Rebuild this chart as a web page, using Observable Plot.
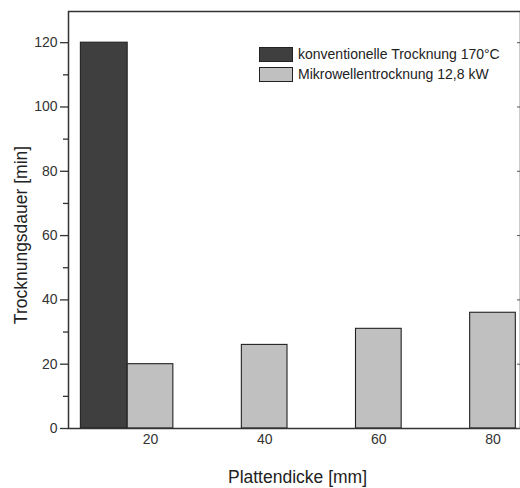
<!DOCTYPE html>
<html><head><meta charset="utf-8">
<script src="https://cdn.jsdelivr.net/npm/d3@7"></script>
<script src="https://cdn.jsdelivr.net/npm/@observablehq/plot@0.6"></script>
<style>
body{margin:0;background:#fff;}
#wrap{position:relative;width:520px;height:488px;overflow:hidden;font-family:"Liberation Sans",Arial,sans-serif;}
.leg{position:absolute;left:259px;height:16px;font-size:14px;color:#222;display:flex;align-items:center;white-space:nowrap;}
.sw{width:34px;height:15px;border:1.3px solid #222;margin-right:5px;box-sizing:border-box;}
</style></head><body><div id="wrap"></div>
<script>
const thickness = [20, 40, 60, 80];
const conventional = [120, null, null, null];
const microwave = [20, 26, 31, 36];
const seriesNames = ["konventionelle Trocknung 170°C", "Mikrowellentrocknung 12,8 kW"];
const seriesColors = ["#3f3f3f", "#c0c0c0"];
const yTicks = [0, 20, 40, 60, 80, 100, 120];
const yMinorTicks = [10, 30, 50, 70, 90, 110];
const xTicks = [20, 40, 60, 80];
const xTitle = "Plattendicke [mm]";
const yTitle = "Trocknungsdauer [min]";

const convRows = thickness.map((t, i) => ({t, v: conventional[i]})).filter(d => d.v != null);
const microRows = thickness.map((t, i) => ({t, v: microwave[i]})).filter(d => d.v != null);
const barW = 8;

const plot = Plot.plot({
  width: 520,
  height: 488,
  marginLeft: 68,
  marginRight: 0,
  marginTop: 11,
  marginBottom: 60,
  style: {fontFamily: "Liberation Sans, Arial, sans-serif", fontSize: "14px", background: "#fff", color: "#333"},
  x: {type: "linear", domain: [5.63, 84.82]},
  y: {domain: [0, 129.7]},
  marks: [
    Plot.rectY(convRows, {x1: d => d.t - 1.5 * barW - 0.2, x2: d => d.t - 0.5 * barW, y1: 0, y2: "v", fill: seriesColors[0], stroke: "#222", strokeWidth: 1.1}),
    Plot.rectY(microRows, {x1: d => d.t - 0.5 * barW, x2: d => d.t + 0.5 * barW, y1: 0, y2: "v", fill: seriesColors[1], stroke: "#222", strokeWidth: 1.1}),
    Plot.frame({stroke: "#333", strokeWidth: 1.5}),
    Plot.axisY(yTicks, {anchor: "left", tickSize: 8, tickPadding: 3, fontSize: 14, color: "#333", strokeWidth: 1.3, label: null}),
    Plot.axisY(yMinorTicks, {anchor: "left", tickSize: 5, tickFormat: () => "", color: "#333", strokeWidth: 1.3, label: null}),
    Plot.axisY(yTicks, {anchor: "right", tickSize: -4, tickFormat: () => "", color: "#555", strokeWidth: 1, label: null}),
    Plot.axisX(xTicks, {anchor: "bottom", tickSize: 0, tickPadding: 6, fontSize: 14, color: "#333", label: null}),
    Plot.text([xTitle], {frameAnchor: "bottom", dx: 3, dy: 54, text: d => d, fontSize: 17.5, lineAnchor: "bottom", textAnchor: "middle", fill: "#222"}),
    Plot.text([yTitle], {frameAnchor: "left", dx: -47, dy: 15, text: d => d, fontSize: 17.5, rotate: -90, lineAnchor: "middle", textAnchor: "middle", fill: "#222"})
  ]
});
const wrap = document.getElementById("wrap");
wrap.appendChild(plot);
const legTops = [46, 66];
seriesNames.forEach((name, i) => {
  const row = document.createElement("div");
  row.className = "leg";
  row.style.top = legTops[i] + "px";
  const sw = document.createElement("span");
  sw.className = "sw";
  sw.style.background = seriesColors[i];
  const tx = document.createElement("span");
  tx.textContent = name;
  row.appendChild(sw);
  row.appendChild(tx);
  wrap.appendChild(row);
});
</script>
</body></html>
